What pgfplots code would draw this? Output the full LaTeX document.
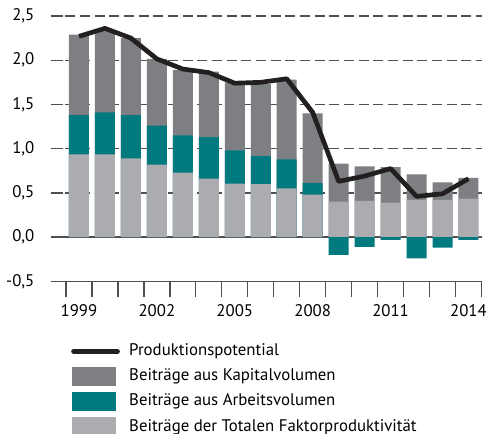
\documentclass[border=0pt]{standalone}
\usepackage{fontspec}
\setmainfont{PT Sans}
\usepackage{pgfplots}
\usepackage{pgfplotstable}
\pgfplotsset{compat=1.18}
\definecolor{kapital}{HTML}{7E7F83}
\definecolor{arbeit}{HTML}{00797F}
\definecolor{tfp}{HTML}{ABACB0}
\definecolor{linie}{HTML}{231F20}
\definecolor{gitter}{HTML}{505052}

% tfp = Oberkante TFP, mitte = Oberkante Arbeitsvolumen (falls positiv),
% gesamt = Oberkante Kapital, neg = Arbeitsvolumen (falls negativ), pot = Produktionspotential
\pgfplotstableread{
jahr tfp   mitte gesamt neg   pot
1999 0.935 1.38  2.29   0     2.27
2000 0.935 1.41  2.33   0     2.36
2001 0.89  1.38  2.25   0     2.25
2002 0.82  1.26  2.015  0     2.015
2003 0.73  1.15  1.89   0     1.90
2004 0.66  1.13  1.87   0     1.86
2005 0.605 0.98  1.75   0     1.74
2006 0.60  0.915 1.73   0     1.75
2007 0.55  0.88  1.78   0     1.79
2008 0.48  0.61  1.40   0     1.41
2009 0.40  0     0.83   -0.20 0.63
2010 0.41  0     0.80   -0.11 0.69
2011 0.39  0     0.79   -0.03 0.775
2012 0.42  0     0.71   -0.24 0.46
2013 0.42  0     0.62   -0.12 0.49
2014 0.435 0     0.67   -0.03 0.66
}\daten

\pgfplotsset{
  kasten/.style={legend image code/.code={\fill[##1] (0pt,-7.1pt) rectangle (33pt,7.1pt);}},
  strich/.style={legend image code/.code={\draw[##1] (1pt,0pt) -- (34pt,0pt);}},
}

\begin{document}
\begin{tikzpicture}
\path[use as bounding box] (0pt,0pt) rectangle (367.5pt,325.5pt);
\begin{axis}[
  at={(38pt,114.5pt)}, anchor=south west,
  scale only axis, width=323.5pt, height=199pt,
  font=\fontsize{12.6}{14}\selectfont,
  ybar, bar width=15pt, bar shift=0pt,
  xmin=1997.91, xmax=2014.52,
  ymin=-0.5, ymax=2.5,
  ytick={-0.5,0,0.5,1,1.5,2,2.5},
  yticklabels={{-0,5},{0,0},{0,5},{1,0},{1,5},{2,0},{2,5}},
  xtick={1998.5,1999.5,...,2014.5},
  xticklabels={},
  extra x ticks={1999,2002,2005,2008,2011,2014},
  extra x tick labels={1999,2002,2005,2008,2011,2014},
  extra x tick style={major tick length=0pt, grid=none,
    tick label style={yshift=-14pt}},
  axis lines*=left,
  y axis line style={draw=none},
  x axis line style={gitter, line width=1pt, -},
  ytick style={draw=none},
  xtick style={gitter, line width=1pt},
  major tick length=11.7pt,
  tick align=outside,
  yticklabel style={xshift=3pt},
  ymajorgrids,
  major grid style={gitter, line width=1pt, dash pattern=on 7.5pt off 3.5pt},
  legend style={draw=none, fill=none, at={(0.047,-0.229)}, anchor=north west,
    row sep=4.75pt, inner sep=0pt, nodes={inner sep=1pt, text height=9pt, text depth=2.5pt},
    /tikz/every odd column/.style={column sep=6pt}},
  legend cell align=left,
]
\addlegendimage{linie, line width=3.5pt, line cap=round, strich}
\addlegendentry{Produktionspotential}

\draw[gitter, line width=1pt] (axis cs:1997.91,0) -- (axis cs:2014.52,0);
\draw[gitter, line width=1pt] (axis cs:1997.91,0.5) -- ++(9.5pt,0pt);
\draw[gitter, line width=1pt] (axis cs:1997.91,1) -- ++(9.5pt,0pt);
\draw[gitter, line width=1pt] (axis cs:1997.91,1.5) -- ++(9.5pt,0pt);
\draw[gitter, line width=1pt] (axis cs:1997.91,2) -- ++(9.5pt,0pt);
\draw[gitter, line width=1pt] (axis cs:1997.91,2.5) -- ++(9.5pt,0pt);

\addplot[fill=kapital, draw=none, kasten] table[x=jahr, y=gesamt] {\daten};
\addlegendentry{Beiträge aus Kapitalvolumen}
\addplot[fill=arbeit, draw=none, kasten] table[x=jahr, y=mitte] {\daten};
\addlegendentry{Beiträge aus Arbeitsvolumen}
\addplot[fill=tfp, draw=none, kasten] table[x=jahr, y=tfp] {\daten};
\addlegendentry{Beiträge der Totalen Faktorproduktivität}
\addplot[fill=arbeit, draw=none, forget plot] table[x=jahr, y=neg] {\daten};

\addplot[sharp plot, linie, line width=3.5pt, line join=round, forget plot]
  table[x=jahr, y=pot] {\daten};
\end{axis}
\end{tikzpicture}
\end{document}
